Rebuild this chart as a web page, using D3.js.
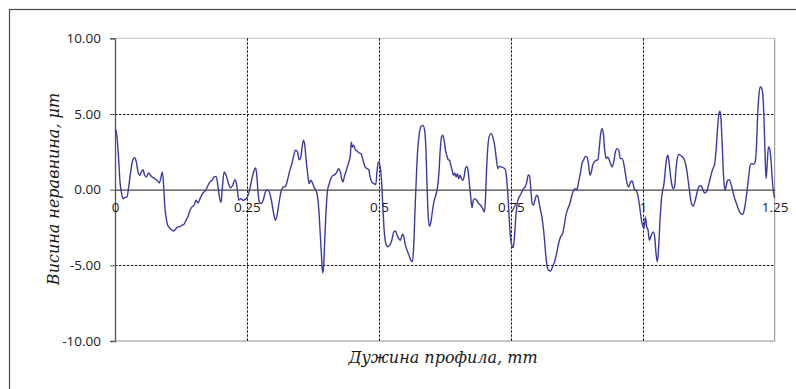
<!DOCTYPE html>
<html><head><meta charset="utf-8">
<script src="https://cdn.jsdelivr.net/npm/d3@7/dist/d3.min.js"></script>
<style>html,body{margin:0;padding:0;background:#fff;}svg{display:block;}</style>
</head><body>
<script>
// profile length, mm
const profileX = [
0,0.0019,0.0044,0.0070,0.0095,0.0120,0.0152,0.0183,0.0228,0.0259,0.0297,0.0335,0.0373,0.0404,0.0436,0.0468,0.0499,0.0531,0.0562,0.0594,0.0638,0.0670,0.0702,0.0752,0.0796,0.0841,0.0872,0.0897,0.0923,0.0942,0.0967,0.0992,0.1030,0.1068,0.1106,0.1144,0.1182,0.1220,0.1270,0.1308,0.1346,0.1384,0.1422,0.1460,0.1498,0.1536,0.1574,0.1612,0.1650,0.1687,0.1725,0.1763,0.1801,0.1839,0.1877,0.1915,0.1953,0.1978,0.2010,0.2035,0.2067,0.2105,0.2142,0.2187,0.2231,0.2269,0.2294,0.2319,0.2345,0.2383,0.2427,0.2471,
0.2500,0.2532,0.2563,0.2595,0.2627,0.2665,0.2690,0.2709,0.2735,0.2773,0.2811,0.2849,0.2887,0.2925,0.2963,0.3001,0.3039,0.3077,0.3115,0.3153,0.3191,0.3229,0.3267,0.3305,0.3343,0.3381,0.3419,0.3457,0.3489,0.3521,0.3546,0.3571,0.3597,0.3622,0.3654,0.3679,0.3711,0.3743,0.3774,0.3806,0.3838,0.3863,0.3888,0.3914,0.3933,0.3952,0.3977,0.4003,0.4028,0.4060,0.4091,0.4129,0.4167,0.4205,0.4237,0.4269,0.4294,0.4320,0.4345,0.4383,0.4421,0.4459,0.4478,0.4497,0.4522,0.4554,0.4586,0.4624,0.4662,0.4700,0.4738,0.4776,0.4808,0.4833,0.4865,0.4903,0.4941,0.4965,0.4985,0.5003,0.5025,
0.5050,0.5075,0.5100,0.5132,0.5170,0.5207,0.5245,0.5283,0.5314,0.5345,0.5377,0.5408,0.5446,0.5471,0.5502,0.5534,0.5571,0.5603,0.5634,0.5659,0.5685,0.5710,0.5735,0.5766,0.5798,0.5835,0.5867,0.5892,0.5911,0.5936,0.5961,0.5986,0.6017,0.6049,0.6080,0.6112,0.6137,0.6162,0.6187,0.6212,0.6237,0.6262,0.6287,0.6313,0.6338,0.6363,0.6388,0.6413,0.6438,0.6463,0.6488,0.6513,0.6539,0.6564,0.6589,0.6614,0.6639,0.6664,0.6689,0.6714,0.6740,0.6765,0.6790,0.6815,0.6853,0.6890,0.6928,0.6966,0.6997,0.7016,0.7035,0.7060,0.7091,0.7129,0.7167,0.7198,0.7229,0.7255,0.7280,0.7317,0.7355,0.7386,0.7418,0.7443,0.7468,0.7493,
0.7519,0.7544,0.7570,0.7595,0.7620,0.7646,0.7677,0.7709,0.7741,0.7772,0.7804,0.7829,0.7854,0.7880,0.7905,0.7930,0.7956,0.7987,0.8013,0.8038,0.8063,0.8089,0.8114,0.8139,0.8165,0.8190,0.8215,0.8253,0.8291,0.8329,0.8367,0.8405,0.8443,0.8481,0.8513,0.8544,0.8582,0.8620,0.8658,0.8690,0.8722,0.8753,0.8785,0.8817,0.8848,0.8880,0.8912,0.8943,0.8975,0.9000,0.9026,0.9051,0.9083,0.9114,0.9152,0.9177,0.9203,0.9228,0.9253,0.9279,0.9304,0.9329,0.9355,0.9386,0.9418,0.9450,0.9481,0.9513,0.9545,0.9576,0.9608,0.9640,0.9671,0.9703,0.9735,0.9766,0.9798,0.9823,0.9848,0.9874,0.9899,0.9924,0.9950,0.9975,1.0000,
1.0025,1.0050,1.0075,1.0100,1.0126,1.0151,1.0176,1.0201,1.0226,1.0251,1.0276,1.0301,1.0327,1.0352,1.0377,1.0402,1.0427,1.0452,1.0477,1.0502,1.0528,1.0553,1.0578,1.0603,1.0628,1.0653,1.0685,1.0716,1.0754,1.0791,1.0829,1.0860,1.0892,1.0923,1.0955,1.0986,1.1017,1.1049,1.1080,1.1112,1.1143,1.1174,1.1206,1.1237,1.1269,1.1300,1.1331,1.1363,1.1394,1.1419,1.1444,1.1463,1.1482,1.1507,1.1532,1.1557,1.1583,1.1608,1.1639,1.1670,1.1702,1.1733,1.1765,1.1796,1.1827,1.1859,1.1890,1.1922,1.1953,1.1985,1.2010,1.2035,1.2066,1.2098,1.2129,1.2154,1.2173,1.2198,1.2223,1.2248,1.2273,1.2298,1.2317,1.2336,1.2355,1.2380,1.2405,1.2430,1.2455,1.2481,1.2500
];
// unevenness height, μm
const profileY = [
4.03,3.9,3.26,1.94,0.5,-0.15,-0.6,-0.53,-0.48,0.18,1.17,1.94,2.11,1.83,1.17,0.95,1.17,1.32,0.95,0.84,1.1,0.95,0.84,0.73,0.62,0.44,0.84,1.17,0.18,-1.03,-1.8,-2.29,-2.51,-2.64,-2.73,-2.64,-2.46,-2.46,-2.35,-2.29,-2.02,-1.76,-1.36,-1.14,-1.03,-0.7,-0.88,-0.59,-0.31,-0.15,0,0.29,0.51,0.62,0.84,0.88,0.18,-0.48,-0.84,0.18,1.17,0.95,0.51,0.13,0.29,0.66,0.51,-0.04,-0.7,-0.59,-0.7,-0.64,
-0.53,-0.26,0.18,0.73,1.17,1.43,0.84,-0.15,-0.81,-0.92,-0.66,-0.15,0,-0.15,-0.7,-1.47,-2.02,-1.58,-0.7,-0.04,0.18,0.22,0.62,1.17,1.61,2.16,2.6,2.49,1.98,2.16,2.82,3.26,2.93,1.94,0.95,0.4,0.62,0.44,0.13,-0.04,-0.48,-1.36,-2.9,-4.44,-5.5,-5.1,-3.12,-1.14,-0.04,0.4,0.73,0.95,0.99,1.17,1.39,1.17,0.73,0.51,0.84,1.28,1.72,2.27,3.15,2.82,2.93,2.64,2.55,2.42,2.38,1.94,1.5,1.39,1.32,0.84,0.51,0.4,0.35,1.2,1.75,1.85,1.5,
0.62,-1.14,-2.68,-3.56,-3.78,-3.67,-3.34,-2.79,-2.73,-3.01,-3.23,-3.34,-2.95,-3.08,-3.67,-4.0,-4.33,-4.66,-4.77,-3.78,-1.36,0.84,2.6,3.7,4.18,4.25,3.92,2.6,0.4,-1.8,-2.42,-2.13,-1.36,-0.7,-0.37,0.18,1.06,2.6,3.48,3.59,3.26,2.6,2.27,1.98,1.94,1.61,1.28,0.95,1.1,0.84,1.06,0.73,0.95,0.73,0.62,0.84,1.39,1.54,1.28,0.4,-0.48,-1.19,-0.7,-0.59,-0.7,-0.92,-1.03,-1.25,-1.47,-0.92,0.84,2.6,3.52,3.7,3.37,2.82,1.94,1.39,1.54,1.5,1.45,1.39,0.84,-0.26,-1.8,-3.12,
-3.67,-3.83,-3.12,-1.8,-0.92,-0.59,-0.37,-0.15,0.07,0.18,0.51,0.95,0.95,-0.04,-0.92,-1.03,-0.7,-0.37,-0.44,-0.92,-1.36,-1.8,-2.46,-3.34,-4.44,-5.1,-5.32,-5.37,-5.1,-4.77,-4.22,-3.56,-3.12,-2.9,-2.35,-1.69,-1.25,-0.92,-0.37,-0.04,0.07,0,0.51,1.06,1.72,1.98,2.2,2.16,1.61,0.95,1.17,1.61,1.83,1.94,1.98,2.82,3.7,4.03,3.7,2.6,2.05,2.16,2.05,1.76,1.5,1.83,2.49,2.71,2.6,2.05,2.05,1.72,1.06,0.4,0.18,0.51,0.57,0.29,0,-0.04,-0.26,-0.7,-1.36,-2.02,-2.4,
-2.57,-1.8,-2.46,-2.68,-3.34,-3.12,-2.9,-2.79,-3.12,-4.22,-4.77,-3.78,-2.02,-0.7,-0.04,0.4,1.28,2.05,2.27,1.72,0.84,0.29,0.07,0.18,1.28,2.05,2.33,2.27,2.16,1.94,1.39,0.62,-0.26,-0.92,-1.1,-0.81,-0.37,0.07,0.26,0.22,-0.04,-0.22,-0.15,0.18,0.62,1.06,1.39,1.72,2.82,4.14,5.02,5.19,4.69,2.82,0.84,-0.04,0.29,0.62,0.66,0.4,-0.04,-0.48,-0.81,-1.14,-1.41,-1.58,-1.63,-1.36,-0.7,0.18,0.95,1.61,1.72,1.67,1.83,2.82,4.58,6.12,6.78,6.73,6.34,4.58,2.38,0.73,1.5,2.82,2.71,1.94,0.62,-0.26,-0.53
];
const yTicks = [-10, -5, 0, 5, 10];
const yTickLabels = ["-10.00", "-5.00", "0.00", "5.00", "10.00"];
const xTicks = [0, 0.25, 0.5, 0.75, 1, 1.25];
const xTickLabels = ["0", "0.25", "0.5", "0.75", "1", "1.25"];
const xTitle = "Дужина профила, mm";
const yTitle = "Висина неравнина, μm";

const W = 796, H = 389;
const svg = d3.select("body").append("svg").attr("width", W).attr("height", H);

// outer chart frame
svg.append("rect").attr("x", 9.5).attr("y", 9.5).attr("width", W).attr("height", H)
  .attr("fill", "none").attr("stroke", "#4a4a4a").attr("stroke-width", 1.2);

const x = d3.scaleLinear().domain([0, 1.25]).range([115, 774.7]);
const y = d3.scaleLinear().domain([-10, 10]).range([341, 38.3]);

// plot area border
svg.append("line").attr("x1", x(0)).attr("x2", x(1.25)).attr("y1", y(10)).attr("y2", y(10))
  .attr("stroke", "#bdbdbd").attr("stroke-width", 1);
svg.append("line").attr("x1", x(1.25)).attr("x2", x(1.25)).attr("y1", y(10)).attr("y2", y(-10))
  .attr("stroke", "#8c8c8c").attr("stroke-width", 1);
svg.append("line").attr("x1", x(0)).attr("x2", x(1.25)).attr("y1", y(-10)).attr("y2", y(-10))
  .attr("stroke", "#8c8c8c").attr("stroke-width", 1);

// dashed gridlines
const g = svg.append("g");
g.selectAll("line.vg").data(xTicks.filter(d => d > 0 && d < 1.25)).enter().append("line")
  .attr("x1", d => Math.round(x(d)) + 0.5).attr("x2", d => Math.round(x(d)) + 0.5)
  .attr("y1", y(10)).attr("y2", y(-10))
  .attr("stroke", "#111").attr("stroke-width", 1).attr("stroke-dasharray", "2.5,1.5");
g.selectAll("line.hg").data([5, -5]).enter().append("line")
  .attr("x1", x(0)).attr("x2", x(1.25))
  .attr("y1", d => Math.round(y(d)) + 0.5).attr("y2", d => Math.round(y(d)) + 0.5)
  .attr("stroke", "#111").attr("stroke-width", 1).attr("stroke-dasharray", "2.5,1.5");

// y axis
const yAxis = d3.axisLeft(y).tickValues(yTicks).tickSize(5).tickFormat((d, i) => yTickLabels[i]);
const ya = svg.append("g").attr("transform", `translate(${x(0)},0)`).call(yAxis);
ya.select(".domain").attr("stroke", "#555").attr("stroke-width", 1.3);
ya.selectAll(".tick line").attr("stroke", "#555");
ya.selectAll(".tick text").attr("x", -14).attr("fill", "#1a1a1a")
  .style("font-family", "'Open Sans', sans-serif").style("font-size", "13.5px");

// x axis at zero
const xAxis = d3.axisBottom(x).tickValues(xTicks).tickSize(0).tickFormat((d, i) => xTickLabels[i]);
const xa = svg.append("g").attr("transform", `translate(0,${y(0)})`).call(xAxis);
xa.select(".domain").attr("stroke", "#444").attr("stroke-width", 1.3);
xa.selectAll(".tick text").attr("y", 14).attr("dy", "0.6em").attr("fill", "#1a1a1a")
  .style("font-family", "'Open Sans', sans-serif").style("font-size", "13.5px");

// profile line
const pts = profileX.map((d, i) => [d, profileY[i]]);
svg.append("path").datum(pts)
  .attr("fill", "none").attr("stroke", "#3a3aa4").attr("stroke-width", 1.4)
  .attr("d", d3.line().x(d => x(d[0])).y(d => y(d[1])).curve(d3.curveMonotoneX));

// axis titles
svg.append("text").attr("x", 443).attr("y", 363).attr("text-anchor", "middle")
  .attr("fill", "#1a1a1a").style("font-family", "'DejaVu Serif', serif").style("font-style", "italic")
  .style("font-size", "16px").text(xTitle);
svg.append("text").attr("transform", "translate(59,189) rotate(-90)").attr("text-anchor", "middle")
  .attr("fill", "#1a1a1a").style("font-family", "'DejaVu Serif', serif").style("font-style", "italic")
  .style("font-size", "16px").text(yTitle);
</script>
</body></html>
